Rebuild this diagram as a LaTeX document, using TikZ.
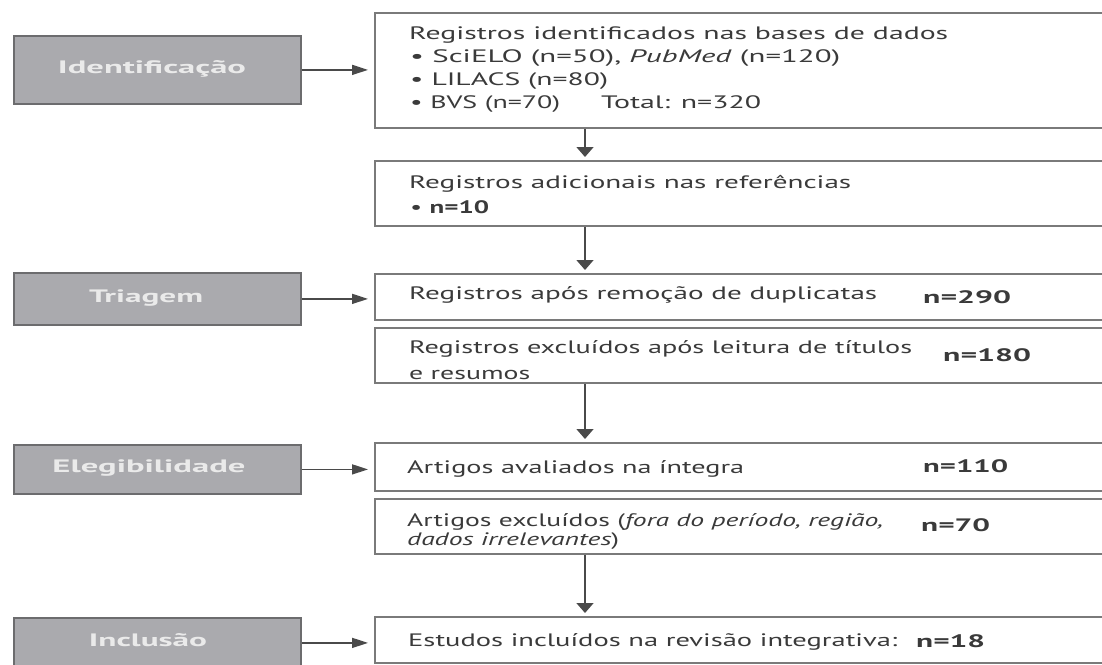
\documentclass[tikz,border=0pt]{standalone}
\usepackage{fontspec}
\usepackage{graphicx}
\setmainfont{PT Sans}
\usetikzlibrary{arrows.meta}
\definecolor{graybox}{HTML}{AAAAAE}
\definecolor{grayedge}{HTML}{6C6C6E}
\definecolor{graytxt}{HTML}{EAEAEA}
\definecolor{boxedge}{HTML}{7A7A7A}
\definecolor{txt}{HTML}{3A3A3A}
\definecolor{arr}{HTML}{4A4A4A}
\newcommand{\tw}[2]{\resizebox{#1pt}{\height}{#2}}
\tikzset{
  phase/.style={draw=grayedge, line width=1.8pt, fill=graybox, anchor=north west, inner sep=0pt,
    minimum width=287pt},
  phasetxt/.style={inner sep=0pt, text=graytxt, font=\fontsize{18}{20}\selectfont\bfseries},
  stage/.style={draw=boxedge, line width=1.8pt, fill=white, anchor=north west, inner sep=0pt,
    minimum width=740pt},
  line/.style={anchor=base west, inner sep=0pt, text=txt, font=\fontsize{18}{20}\selectfont},
  harrow/.style={draw=arr, line width=1.6pt, shorten >=6pt, -{Triangle[length=16pt,width=10pt]}},
  varrow/.style={draw=arr, line width=1.6pt, shorten >=3pt, -{Triangle[length=10pt,width=17pt]}},
}
\begin{document}
\begin{tikzpicture}[x=1pt,y=-1pt]
\useasboundingbox (0,0) rectangle (1102,664);
% phase boxes
\node[phase, minimum height=68pt] (p1) at (13,35) {};
\node[phasetxt] (p1t) at (152,69) {\tw{188}{Identificação}};
\node[phase, minimum height=52pt] (p2) at (13,272) {};
\node[phasetxt] (p2t) at (146,298) {\tw{114}{Triagem}};
\node[phase, minimum height=49pt] (p3) at (13,444) {};
\node[phasetxt] (p3t) at (149,468) {\tw{193}{Elegibilidade}};
\node[phase, minimum height=50pt] (p4) at (13,617) {};
\node[phasetxt] (p4t) at (148,640) {\tw{118}{Inclusão}};
% stage boxes
\node[stage, minimum height=115pt] (s1) at (374,12) {};
\node[stage, minimum height=65pt] (s2) at (374,160) {};
\node[stage, minimum height=46pt] (s3) at (374,273) {};
\node[stage, minimum height=55pt] (s4) at (374,327) {};
\node[stage, minimum height=48pt] (s5) at (374,442) {};
\node[stage, minimum height=55pt] (s6) at (374,498) {};
\node[stage, minimum height=46pt] (s7) at (374,616) {};
% texts
\node[line] (t1a) at (409,39) {\tw{539}{Registros identificados nas bases de dados}};
\node[line] (t1b) at (410,62) {\tw{430}{• SciELO (n=50), \textit{PubMed} (n=120)}};
\node[line] (t1c) at (410,85) {\tw{198}{• LILACS (n=80)}};
\node[line] (t1d) at (410,108) {\tw{150}{• BVS (n=70)}};
\node[line] (t1e) at (601,108) {\tw{160}{Total: n=320}};
\node[line] (t2a) at (409,188) {\tw{442}{Registros adicionais nas referências}};
\node[line] (t2b) at (410,213) {\tw{79}{• \textbf{n=10}}};
\node[line] (t3a) at (409,299) {\tw{468}{Registros após remoção de duplicatas}};
\node[line] (t3n) at (923,303) {\tw{88}{\textbf{n=290}}};
\node[line] (t4a) at (409,353) {\tw{503}{Registros excluídos após leitura de títulos}};
\node[line] (t4b) at (409,379) {\tw{121}{e resumos}};
\node[line] (t4n) at (943,361) {\tw{88}{\textbf{n=180}}};
\node[line] (t5a) at (407,473) {\tw{337}{Artigos avaliados na íntegra}};
\node[line] (t5n) at (923,472) {\tw{85}{\textbf{n=110}}};
\node[line] (t6a) at (407,526) {\tw{476}{Artigos excluídos (\textit{fora do período, região,}}};
\node[line] (t6b) at (407,545) {\tw{212}{\textit{dados irrelevantes})}};
\node[line] (t6n) at (921,531) {\tw{69}{\textbf{n=70}}};
\node[line] (t7a) at (408,646) {\tw{489}{Estudos incluídos na revisão integrativa:}};
\node[line] (t7n) at (916,647) {\tw{69}{\textbf{n=18}}};
% arrows
\draw[harrow] (p1.east) -- (p1.east -| s1.west);
\draw[harrow] (p2.east) -- (p2.east -| s3.west);
\draw[harrow] (p3.east) -- (p3.east -| s5.west);
\draw[harrow] (p4.east) -- (p4.east -| s7.west);
\coordinate (ax) at (585,0);
\draw[varrow] (s1.south -| ax) -- (s2.north -| ax);
\draw[varrow] (s2.south -| ax) -- (s3.north -| ax);
\draw[varrow] (s4.south -| ax) -- (s5.north -| ax);
\draw[varrow] (s6.south -| ax) -- (s7.north -| ax);
\end{tikzpicture}
\end{document}
